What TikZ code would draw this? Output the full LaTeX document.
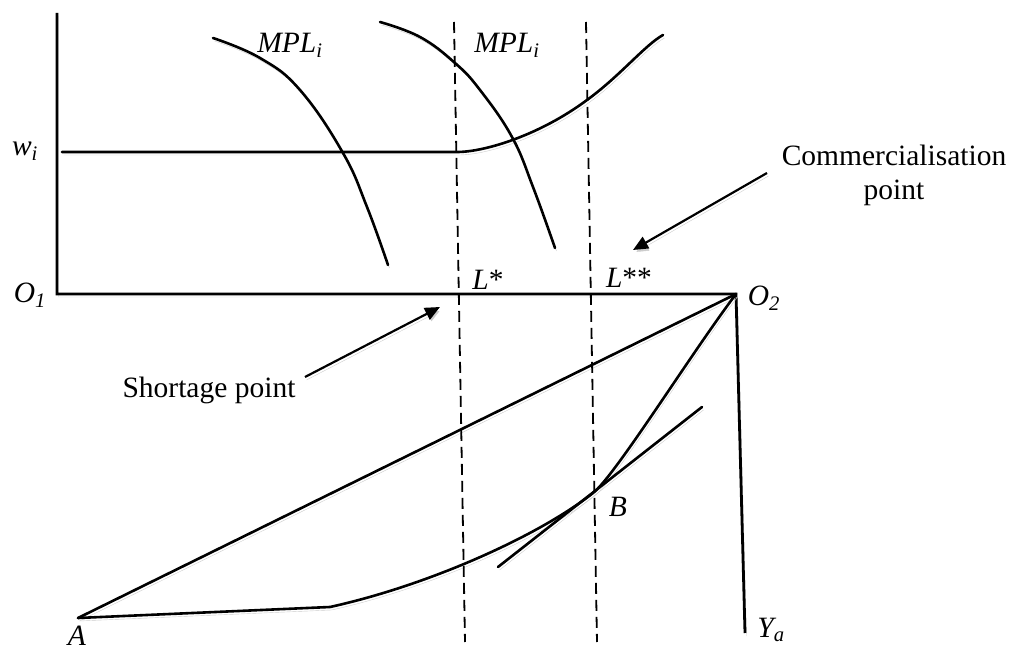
\documentclass[tikz,border=0pt]{standalone}
\usepackage{fontspec}
\setmainfont{Liberation Serif}
\usetikzlibrary{arrows.meta}

\begin{document}
\begin{tikzpicture}[x=1pt, y=-1pt,
    font=\fontsize{29.5}{34}\selectfont,
    shade line/.style={preaction={draw=black!20, transform canvas={xshift=1.5pt, yshift=-3pt}}},
    axis/.style={line width=2.8pt, black, shade line},
    curve/.style={line width=2.6pt, black, line cap=round, shade line},
    guide/.style={line width=1.8pt, dash pattern=on 11pt off 6pt},
    arrow/.style={line width=2.2pt, -{Triangle[length=15pt, width=13pt]}, shade line},
    lbl/.style={inner sep=0pt, font=\fontsize{29.5}{34}\selectfont\itshape},
    note/.style={inner sep=0pt, align=center}
]
\useasboundingbox (0,0) rectangle (1012,652);

% origins and axis ends
\coordinate (o1) at (57,294);
\coordinate (top) at (57,13);
\coordinate (o2) at (736,294);
\coordinate (ya) at (745,633);
\coordinate (a) at (78,618);
\coordinate (kink) at (330,607);
\coordinate (b) at (593,493);

% axes of the upper and lower panel
\draw[axis] (top) -- (o1) -- (o2) -- (ya);

% wage line
\draw[curve] (62,152) -- (457,152)
    .. controls (485,152) and (540,135) .. (587,100)
    .. controls (620,76) and (645,45) .. (663,35);

% marginal product curves
\draw[curve] plot[smooth, tension=0.7] coordinates
    {(213,38) (260,58) (300,90) (343,153) (367,207) (388,265)};
\draw[curve] plot[smooth, tension=0.7] coordinates
    {(380,22) (420,37) (455,63) (480,90) (512,137) (533,187) (555,248)};

% production side
\draw[curve] (a) -- (o2);
\draw[curve] (a) -- (kink)
    .. controls (430,585) and (540,535) .. (b)
    .. controls (615,476) and (690,355) .. (o2);
\draw[curve] (498,567) -- (702,407);

% L* and L** guides
\draw[guide] (454,22) -- (465,642);
\draw[guide] (586,22) -- (597,642);

% labels
\node[lbl] (wi) at (25,151) {w\textsubscript{i}};
\node[lbl] (o1lbl) at (30,295) {O\textsubscript{1}};
\node[lbl] (mpl1) at (290,45) {MPL\textsubscript{i}};
\node[lbl] (mpl2) at (507,45) {MPL\textsubscript{i}};
\node[lbl] (lstar) at (488,280) {L\upshape*};
\node[lbl] (lstar2) at (629,278) {L\upshape**};
\node[lbl] (o2lbl) at (764,298) {O\textsubscript{2}};
\node[lbl] (blbl) at (618,507) {B};
\node[lbl] (albl) at (77,636) {A};
\node[lbl] (yalbl) at (771,630) {Y\textsubscript{a}};

\node[note] (commerce) at (894,175) {Commercialisation\\point};
\node[note] (shortage) at (209,390) {Shortage point};

% pointers
\coordinate (commtail) at (767,173);
\coordinate (commhead) at (633,250);
\coordinate (shorttail) at (305,377);
\coordinate (shorthead) at (440,307);
\draw[arrow] (commtail) -- (commhead);
\draw[arrow] (shorttail) -- (shorthead);
\end{tikzpicture}
\end{document}
